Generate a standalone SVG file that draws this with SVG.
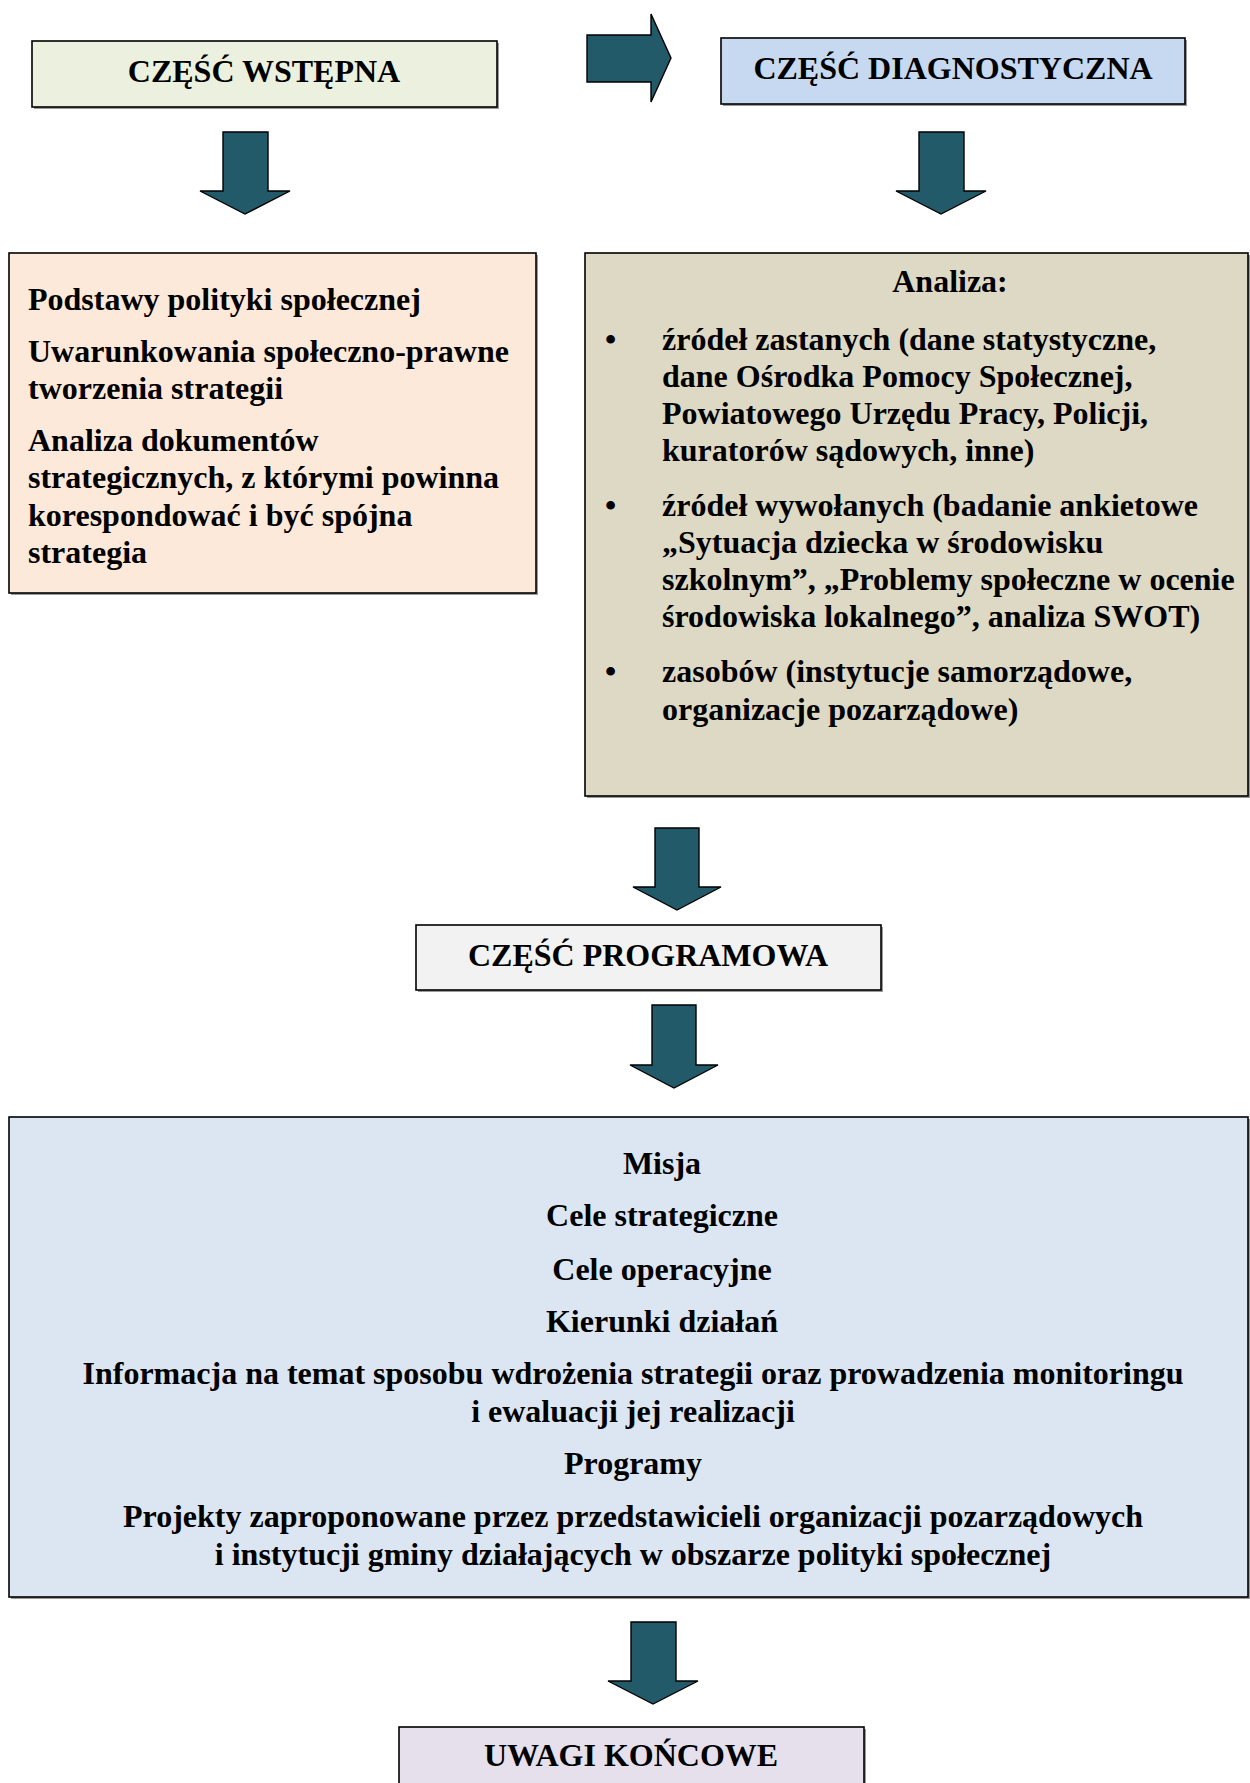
<svg xmlns="http://www.w3.org/2000/svg" width="1250" height="1783" viewBox="0 0 1250 1783">
<style>
  text { font-family: "Liberation Serif", "Times New Roman", serif; font-weight: bold; font-size: 32px; fill: #000; }
  .c { text-anchor: middle; }
  .box { stroke: #000; stroke-width: 1.6; }
  .shadow { fill: #9a9a9a; }
  .arrow { fill: #225a69; stroke: #000; stroke-width: 1.4; stroke-linejoin: miter; }
</style>
<rect width="1250" height="1783" fill="#fff"/>

<g id="connectors">
  <polygon class="arrow" points="587,35 651,35 651,14 671,58 651,102 651,82 587,82"/>
  <polygon class="arrow" points="223,132 268,132 268,191 290,191 245,214 200,191 223,191"/>
  <polygon class="arrow" points="919,132 964,132 964,191 986,191 941,214 896,191 919,191"/>
  <polygon class="arrow" points="655,828 699,828 699,887 721,887 677,910 633,887 655,887"/>
  <polygon class="arrow" points="652,1005 696,1005 696,1065 718,1065 674,1088 630,1065 652,1065"/>
  <polygon class="arrow" points="631,1622 676,1622 676,1681 698,1681 653,1704 608,1681 631,1681"/>
</g>

<g id="node-wstepna">
  <rect class="shadow" x="34" y="43" width="465" height="66"/>
  <rect class="box" x="32" y="41" width="465" height="66" fill="#ebf1de"/>
  <text class="c" x="264" y="82">CZĘŚĆ WSTĘPNA</text>
</g>

<g id="node-diagnostyczna">
  <rect class="shadow" x="723" y="40" width="464" height="66"/>
  <rect class="box" x="721" y="38" width="464" height="66" fill="#c6d9f1"/>
  <text class="c" x="953" y="79">CZĘŚĆ DIAGNOSTYCZNA</text>
</g>

<g id="node-podstawy">
  <rect class="shadow" x="11" y="255" width="527" height="340"/>
  <rect class="box" x="9" y="253" width="527" height="340" fill="#fde9d9"/>
  <text x="28" y="309.5">Podstawy polityki społecznej</text>
  <text x="28" y="361.5">Uwarunkowania społeczno-prawne</text>
  <text x="28" y="398.5">tworzenia strategii</text>
  <text x="28" y="450.5">Analiza dokumentów</text>
  <text x="28" y="488">strategicznych, z którymi powinna</text>
  <text x="28" y="525.5">korespondować i być spójna</text>
  <text x="28" y="562.5">strategia</text>
</g>

<g id="node-analiza">
  <rect class="shadow" x="587" y="255" width="663" height="543"/>
  <rect class="box" x="585" y="253" width="663" height="543" fill="#ddd9c4"/>
  <text class="c" x="950" y="292">Analiza:</text>
  <text x="605" y="350">•</text>
  <text x="662" y="350">źródeł zastanych (dane statystyczne,</text>
  <text x="662" y="387">dane Ośrodka Pomocy Społecznej,</text>
  <text x="662" y="424">Powiatowego Urzędu Pracy, Policji,</text>
  <text x="662" y="461">kuratorów sądowych, inne)</text>
  <text x="605" y="516">•</text>
  <text x="662" y="516">źródeł wywołanych (badanie ankietowe</text>
  <text x="662" y="553">„Sytuacja dziecka w środowisku</text>
  <text x="662" y="590">szkolnym”, „Problemy społeczne w ocenie</text>
  <text x="662" y="627">środowiska lokalnego”, analiza SWOT)</text>
  <text x="605" y="682">•</text>
  <text x="662" y="682">zasobów (instytucje samorządowe,</text>
  <text x="662" y="719.5">organizacje pozarządowe)</text>
</g>

<g id="node-programowa">
  <rect class="shadow" x="418" y="927" width="465" height="65"/>
  <rect class="box" x="416" y="925" width="465" height="65" fill="#f2f2f2"/>
  <text class="c" x="648" y="966">CZĘŚĆ PROGRAMOWA</text>
</g>

<g id="node-misja">
  <rect class="shadow" x="11" y="1119" width="1239" height="480"/>
  <rect class="box" x="9" y="1117" width="1239" height="480" fill="#dce6f2"/>
  <text class="c" x="662" y="1173.5">Misja</text>
  <text class="c" x="662" y="1226">Cele strategiczne</text>
  <text class="c" x="662" y="1279.5">Cele operacyjne</text>
  <text class="c" x="662" y="1332">Kierunki działań</text>
  <text class="c" x="633" y="1384">Informacja na temat sposobu wdrożenia strategii oraz prowadzenia monitoringu</text>
  <text class="c" x="633" y="1422">i ewaluacji jej realizacji</text>
  <text class="c" x="633" y="1474">Programy</text>
  <text class="c" x="633" y="1527">Projekty zaproponowane przez przedstawicieli organizacji pozarządowych</text>
  <text class="c" x="633" y="1565">i instytucji gminy działających w obszarze polityki społecznej</text>
</g>

<g id="node-uwagi">
  <rect class="shadow" x="401" y="1729" width="465" height="70"/>
  <rect class="box" x="399" y="1727" width="465" height="70" fill="#e5e0ec"/>
  <text class="c" x="631" y="1766">UWAGI KOŃCOWE</text>
</g>
</svg>
